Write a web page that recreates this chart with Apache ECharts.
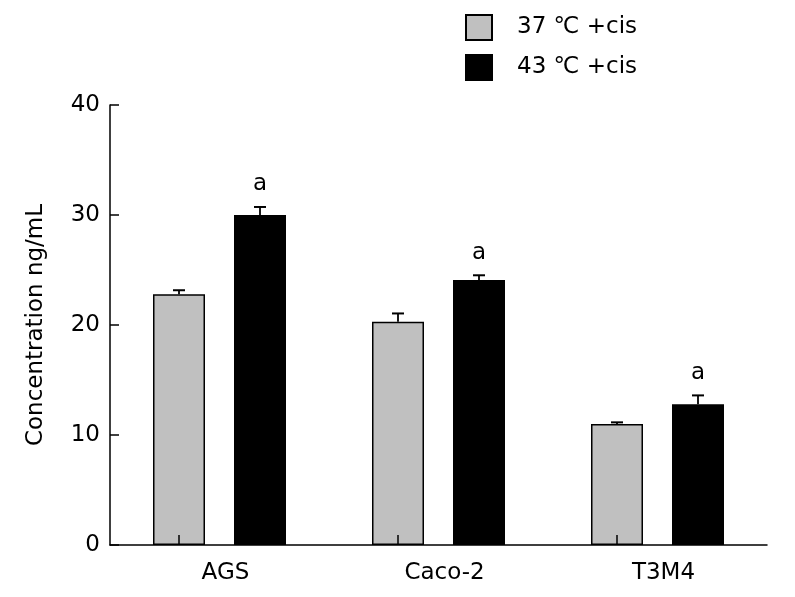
<!DOCTYPE html>
<html>
<head>
<meta charset="utf-8">
<script src="https://cdn.jsdelivr.net/npm/echarts@6/dist/echarts.min.js"></script>
<style>html,body{margin:0;padding:0;background:#fff;}#c{width:795px;height:597px;}</style>
</head>
<body>
<div id="c"></div>
<script>
var categories = ['AGS', 'Caco-2', 'T3M4'];
var seriesNames = ['37 \u2103 +cis', '43 \u2103 +cis'];
var values37 = [22.8, 20.3, 11.0];
var errors37 = [0.36, 0.75, 0.15];
var values43 = [30.0, 24.1, 12.8];
var errors43 = [0.73, 0.42, 0.8];
var sigLabels43 = ['a', 'a', 'a'];
var yTicks = [0, 10, 20, 30, 40];

var FONT = 'DejaVu Sans';
var FS = 23;
var BAR_W = 52;
var GAP = 29;
var OFFSET = (BAR_W + GAP) / 2;

function errData(vals, errs, labels) {
  return vals.map(function (v, i) { return [i, v, errs[i], labels ? labels[i] : '']; });
}

function errRender(offset) {
  return function (params, api) {
    var cat = api.value(0), v = api.value(1), e = api.value(2);
    var lab = api.value(3);
    var top = api.coord([cat, v + e]);
    var base = api.coord([cat, v]);
    var x = base[0] + offset;
    var children = [
      { type: 'line', shape: { x1: x, y1: base[1], x2: x, y2: top[1] }, style: { stroke: '#000', lineWidth: 1.8 } },
      { type: 'line', shape: { x1: x - 6, y1: top[1], x2: x + 6, y2: top[1] }, style: { stroke: '#000', lineWidth: 2 } }
    ];
    if (lab) {
      children.push({ type: 'text', style: { text: lab, x: x, y: top[1] - 11, textAlign: 'center', textVerticalAlign: 'bottom', fill: '#000', font: FS + 'px ' + FONT } });
    }
    return { type: 'group', children: children };
  };
}

var chart = echarts.init(document.getElementById('c'), null, { renderer: 'canvas' });
chart.setOption({
  animation: false,
  backgroundColor: '#fff',
  textStyle: { fontFamily: FONT },
  legend: {
    orient: 'vertical',
    left: 465, top: 14, padding: 0,
    itemWidth: 26, itemHeight: 25, itemGap: 13,
    icon: 'rect',
    data: seriesNames,
    textStyle: { fontSize: FS, color: '#000', fontFamily: FONT, padding: [4, 0, 0, 20] }
  },
  grid: { left: 110, right: 28, top: 105, bottom: 52 },
  xAxis: {
    type: 'category',
    data: categories,
    boundaryGap: true,
    axisLine: { lineStyle: { color: '#000', width: 1.5 } },
    axisTick: { show: false },
    axisLabel: { fontSize: FS, color: '#000', margin: 17, fontFamily: FONT, padding: [0, 0, 0, 12] }
  },
  yAxis: {
    type: 'value',
    min: 0, max: 40, interval: 10,
    name: 'Concentration ng/mL',
    nameLocation: 'middle',
    nameGap: 62,
    nameTextStyle: { fontSize: FS, color: '#000', fontFamily: FONT },
    axisLine: { show: true, lineStyle: { color: '#000', width: 1.5 } },
    axisTick: { show: true, inside: true, length: 9, lineStyle: { color: '#000', width: 1.5 } },
    splitLine: { show: false },
    axisLabel: { fontSize: FS, color: '#000', margin: 10, fontFamily: FONT,
      formatter: function (v) { return yTicks.indexOf(v) >= 0 ? String(v) : ''; } }
  },
  series: [
    { name: seriesNames[0], type: 'bar', data: values37, barWidth: BAR_W, barGap: (GAP / BAR_W * 100) + '%',
      itemStyle: { color: '#c0c0c0', borderColor: '#000', borderWidth: 1.5 } },
    { name: seriesNames[1], type: 'bar', data: values43, barWidth: BAR_W,
      itemStyle: { color: '#000', borderColor: '#000', borderWidth: 1.5 } },
    { type: 'custom', renderItem: errRender(-OFFSET), data: errData(values37, errors37), z: 5, silent: true },
    { type: 'custom', renderItem: errRender(OFFSET), data: errData(values43, errors43, sigLabels43), z: 5, silent: true },
    { type: 'custom', z: 6, silent: true,
      data: categories.map(function (c, i) { return [i, 0]; }),
      renderItem: function (params, api) {
        var p = api.coord([api.value(0), 0]);
        var x = p[0] - OFFSET;
        return { type: 'line', shape: { x1: x, y1: p[1], x2: x, y2: p[1] - 10 }, style: { stroke: '#000', lineWidth: 1.5 } };
      } }
  ]
});
</script>
</body>
</html>
